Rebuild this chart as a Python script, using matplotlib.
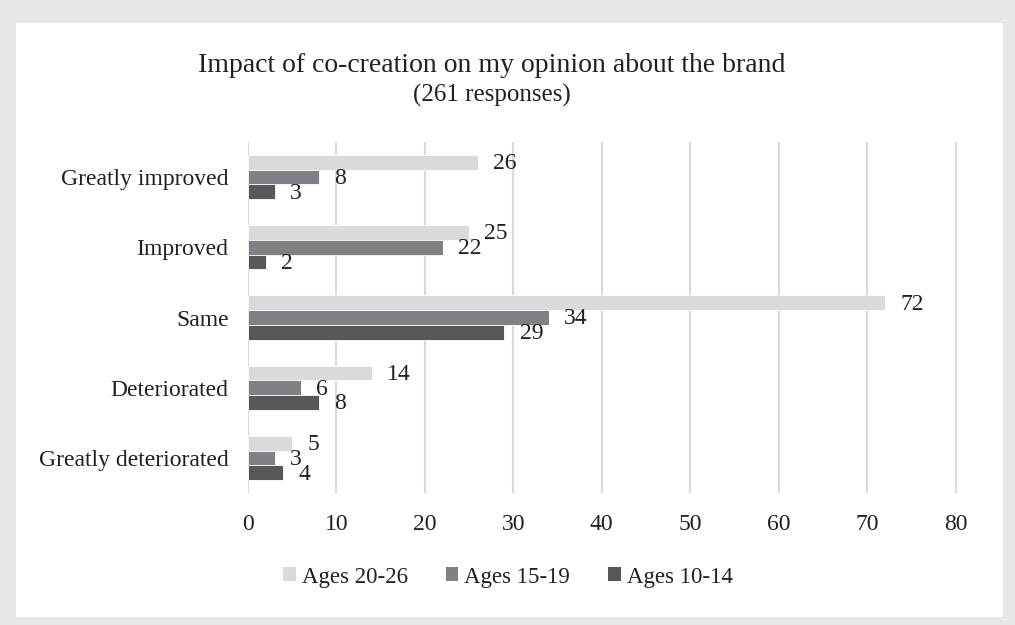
import numpy as np
import matplotlib.pyplot as plt
from matplotlib.patches import Rectangle, Patch

plt.rcParams['font.family'] = ['Liberation Serif', 'DejaVu Serif']

# responses per answer, by age group
categories = ["Greatly improved", "Improved", "Same", "Deteriorated", "Greatly deteriorated"]
series_names = ["Ages 20-26", "Ages 15-19", "Ages 10-14"]
ages_20_26 = [26, 25, 72, 14, 5]
ages_15_19 = [8, 22, 34, 6, 3]
ages_10_14 = [3, 2, 29, 8, 4]
x_ticks = [0, 10, 20, 30, 40, 50, 60, 70, 80]

colors = ["#d9dadb", "#808184", "#58585a"]
txt_col = "#231f20"

fig = plt.figure(figsize=(10.15, 6.25), dpi=100)
fig.patch.set_facecolor("#e6e7e8")
# white panel inside the grey frame
fig.add_artist(Rectangle((16 / 1015, 1 - 617 / 625), (1003 - 16) / 1015, (617 - 23) / 625,
                         transform=fig.transFigure, facecolor="white", edgecolor="none", zorder=0))

ax = fig.add_axes([248 / 1015, 1 - 493 / 625, (960 - 248) / 1015, (493 - 142) / 625])
ax.set_facecolor("none")

n = len(categories)
y = np.arange(n)[::-1].astype(float)
h = 0.21
series = [ages_20_26, ages_15_19, ages_10_14]
for i, (vals, c) in enumerate(zip(series, colors)):
    yy = y + h - i * h
    bars = ax.barh(yy, vals, height=h, color=c, edgecolor="white", linewidth=0.6, zorder=3)
    for b, v in zip(bars, vals):
        ax.annotate(str(v), (v, b.get_y() + b.get_height() / 2), xytext=(11, -1),
                    textcoords="offset points", ha="left", va="center",
                    fontsize=17, color=txt_col, zorder=4)

ax.set_xlim(0, 80.5)
ax.set_ylim(-0.5, n - 0.5)
ax.set_xticks(x_ticks)
ax.set_yticks(y)
ax.set_yticklabels(categories)
ax.tick_params(axis="both", length=0, labelsize=17, labelcolor=txt_col)
ax.tick_params(axis="y", pad=14)
ax.tick_params(axis="x", pad=15)
ax.grid(axis="x", color="#d9d9d9", linewidth=1.5, zorder=0)
for s in ax.spines.values():
    s.set_visible(False)

fig.text(492 / 1015, 1 - 66 / 625, "Impact of co-creation on my opinion about the brand",
         ha="center", va="center", fontsize=20, color=txt_col)
fig.text(492 / 1015, 1 - 95 / 625, "(261 responses)",
         ha="center", va="center", fontsize=18, color=txt_col)

handles = [Patch(facecolor=c, edgecolor="none") for c in colors]
fig.legend(handles, series_names, loc="center", bbox_to_anchor=(508 / 1015, 1 - 577 / 625),
           ncol=3, frameon=False, fontsize=16.5, handlelength=0.55, handleheight=0.55,
           handletextpad=0.26, columnspacing=1.66, labelcolor=txt_col)

fig.savefig("out.png", dpi=100, facecolor=fig.get_facecolor())
